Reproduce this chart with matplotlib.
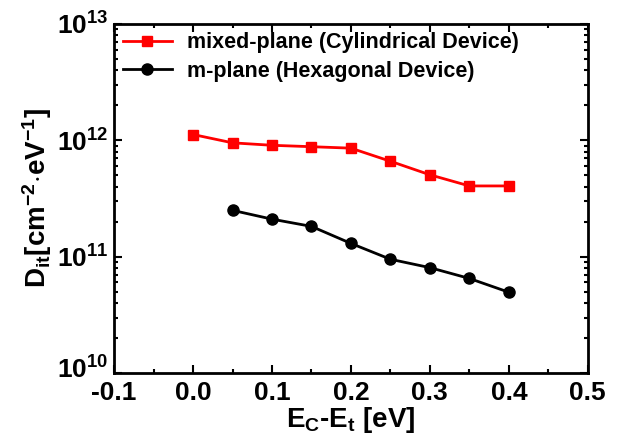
import numpy as np
import matplotlib.pyplot as plt
import matplotlib.transforms as mtransforms
from matplotlib.ticker import LogLocator, MultipleLocator, FixedFormatter, FixedLocator

plt.rcParams['font.family'] = ['Liberation Sans', 'DejaVu Sans']
plt.rcParams['font.weight'] = 'bold'
plt.rcParams['mathtext.fontset'] = 'custom'
plt.rcParams['mathtext.rm'] = 'Liberation Sans:bold'
plt.rcParams['mathtext.bf'] = 'Liberation Sans:bold'
plt.rcParams['mathtext.it'] = 'Liberation Sans:bold'

# data
x_mixed = [0.0, 0.05, 0.1, 0.15, 0.2, 0.25, 0.3, 0.35, 0.4]
dit_mixed = [1.12e12, 9.5e11, 9.05e11, 8.8e11, 8.55e11, 6.6e11, 5.05e11, 4.05e11, 4.05e11]
x_m = [0.05, 0.1, 0.15, 0.2, 0.25, 0.3, 0.35, 0.4]
dit_m = [2.5e11, 2.1e11, 1.82e11, 1.3e11, 9.5e10, 8.05e10, 6.5e10, 4.95e10]
label_mixed = "mixed-plane (Cylindrical Device)"
label_m = "m-plane (Hexagonal Device)"

fig = plt.figure(figsize=(6.2, 4.41), dpi=100)
ax = fig.add_axes([0.184, 0.154, 0.764, 0.792])

ax.plot(x_mixed, dit_mixed, color='#ff0000', marker='s', markersize=7.5, lw=2, label=label_mixed)
ax.plot(x_m, dit_m, color='black', marker='o', markersize=8, lw=2, label=label_m)

ax.set_yscale('log')
ax.set_xlim(-0.1, 0.5)
ax.set_ylim(1e10, 1e13)
ax.xaxis.set_major_locator(MultipleLocator(0.1))
ax.xaxis.set_minor_locator(MultipleLocator(0.05))
ax.xaxis.set_major_formatter(plt.FuncFormatter(lambda v, p: f"{v:.1f}"))
ax.yaxis.set_major_locator(FixedLocator([1e10, 1e11, 1e12, 1e13]))
ax.yaxis.set_major_formatter(FixedFormatter([r'$10^{10}$', r'$10^{11}$', r'$10^{12}$', r'$10^{13}$']))
ax.yaxis.set_minor_locator(LogLocator(base=10, subs=np.arange(2, 10), numticks=20))

ax.tick_params(which='both', direction='in', top=True, right=True, width=1.5)
ax.tick_params(which='major', length=6, labelsize=19, pad=4)
ax.tick_params(axis='x', which='major', pad=6)
ax.tick_params(which='minor', length=3)
for s in ax.spines.values():
    s.set_linewidth(2)

# lift the lowest y label a bit so it clears the -0.1 label
fig.canvas.draw()
lowest = ax.yaxis.get_major_ticks()[0].label1
lowest.set_transform(lowest.get_transform() +
                     mtransforms.ScaledTranslation(0, 4 / 72, fig.dpi_scale_trans))

ax.set_xlabel(r'E$_{\mathrm{C}}$-E$_{\mathrm{t}}$ [eV]', fontsize=20, fontweight='bold', labelpad=0)
ax.set_ylabel(r'D$_{\mathrm{it}}$[cm$^{-2}$$\cdot$eV$^{-1}$]', fontsize=20, fontweight='bold', labelpad=2)

leg = ax.legend(loc='upper left', frameon=False, fontsize=15.5, handlelength=2.3,
                borderaxespad=0.1, labelspacing=0.35, handletextpad=0.7, borderpad=0.3)
for t in leg.get_texts():
    t.set_fontweight('bold')

fig.savefig('out.png', dpi=100)
